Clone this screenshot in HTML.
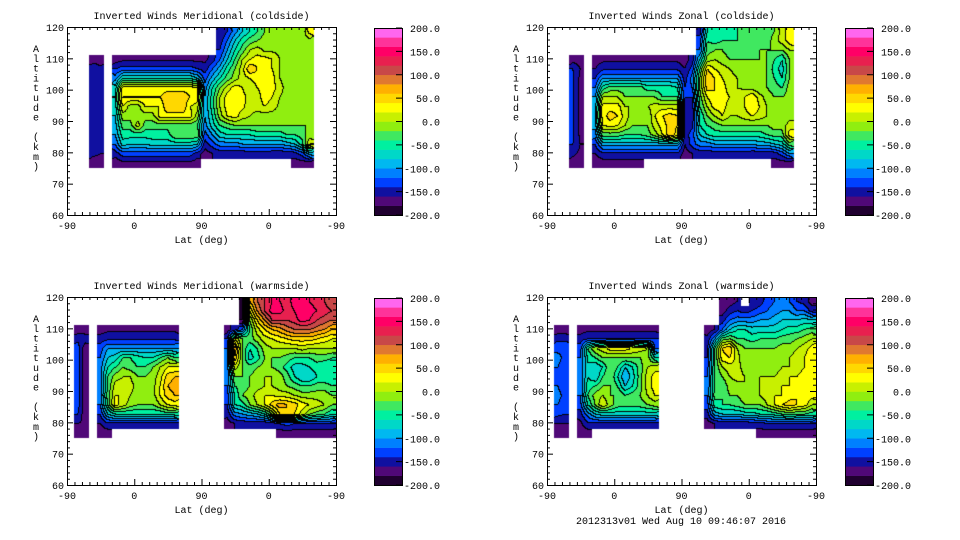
<!DOCTYPE html>
<html><head><meta charset="utf-8"><style>
html,body{margin:0;padding:0;background:#fff;}
#root{position:relative;width:960px;height:540px;overflow:hidden;background:#fff;font-family:"Liberation Mono",monospace;}
canvas{position:absolute;}
svg{position:absolute;left:0;top:0;}
</style></head><body>
<div id="root">
<svg id="svg" width="960" height="540"></svg>
</div>
<script>
const _=null;
// 20 colour bands, -200..200 in steps of 20 (bottom to top)
const bandColors=['#200030','#500878','#1010a0','#0040ff','#0080ff','#00b8f0','#00d8c8','#00f0a0','#40e860','#90ee10','#c8f000','#ffff00','#ffd800','#ffb000','#e07830','#c84848','#e8204f','#ff0066','#ff3399','#ff66ee'];
const cbTickValues=[-200,-150,-100,-50,0,50,100,150,200];
const xTickLabels=['-90','0','90','0','-90'];
const xTickCoords=[0,90,180,270,360];
const yTickValues=[60,70,80,90,100,110,120];
// rows: altitude bins of 3 km, top (117-120) to bottom (75-78); columns: 10-deg bins of the 0..360 lat track

// ---- Panel 1: Meridional coldside
const p1StripCol=3;
const p1Strip=[[_,_],[_,_],[_,_],[-170,-170],[-145,-155],[-145,-160],[-145,-160],[-145,-160],[-145,-160],[-145,-160],[-145,-160],[-145,-160],[-145,-155],[-155,-160],[-170,-170]];
const p1MainCol=6;
const p1Main=[
[_,_,_,_,_,_,_,_,_,_,_,_],[_,_,_,_,_,_,_,_,_,_,_,_],[_,_,_,_,_,_,_,_,_,_,_,_],
[-170,-165,-165,-165,-165,-165,-165,-165,-165,-165,-165,-165],
[-140,-130,-130,-130,-130,-130,-130,-130,-130,-130,-130,-140],
[-110,-60,-60,-60,-60,-60,-60,-60,-60,-60,-60,-80],
[-70,30,30,30,30,30,30,30,30,30,30,20],
[-60,40,40,40,40,40,40,55,55,55,40,30],
[-70,20,-10,-10,20,20,20,60,60,60,20,10],
[-80,-10,-10,-10,-10,-10,30,30,30,30,30,-10],
[-90,-30,-30,10,-30,-30,-30,-30,-30,-30,-30,-40],
[-100,-50,-50,-50,-50,-50,-50,-50,-20,-20,-20,-20],
[-120,-70,-80,-80,-80,-70,-70,-70,-70,-70,-70,-80],
[-150,-130,-130,-130,-130,-130,-130,-130,-130,-130,-130,-150],
[-175,-165,-165,-165,-165,-165,-165,-165,-165,-165,-165,-170]];
const p1RightCol=18;
const p1Right=[
[_,_,-160,-140,-110,-80,-60,-40,-20,-20,-20,-20,-20,-20,30],
[_,_,-150,-120,-80,-50,-30,-20,-10,-10,-10,-10,-10,-10,-10],
[_,_,-140,-100,-60,-30,0,10,-5,-5,-5,-5,-5,-5,-20],
[-165,-150,-120,-80,-40,0,20,30,30,20,0,-10,-10,-10,-10],
[-150,-120,-90,-50,-20,10,60,40,30,20,0,-10,-10,-10,-10],
[-130,-90,-60,-30,-10,10,20,30,30,30,0,-10,-10,-10,-10],
[-110,-60,-20,10,30,20,0,20,30,30,10,-10,-10,-10,-10],
[-100,-50,0,30,30,30,10,10,30,20,0,-10,-10,-10,-10],
[-100,-50,0,30,30,25,10,10,20,10,-5,-10,-10,-10,-10],
[-100,-60,-10,20,30,10,0,-10,-10,-10,-10,-10,-10,-10,-10],
[-110,-70,-40,-30,-20,-20,-20,-20,-20,-20,-20,-20,-20,-20,-20],
[-130,-100,-70,-60,-60,-60,-60,-50,-50,-50,-50,-40,-40,-30,-10],
[-150,-130,-110,-110,-110,-100,-100,-100,-100,-100,-100,-90,-80,-50,20],
[-170,-160,-155,-155,-155,-155,-150,-150,-150,-155,-155,-155,-150,-130,-90],
[_,_,_,_,_,_,_,_,_,_,_,_,-170,-170,-170]];

// ---- Panel 2: Zonal coldside
const p2StripCol=3;
const p2Strip=[[_,_],[_,_],[_,_],[-170,-170],[-140,-160],[-135,-165],[-135,-165],[-135,-165],[-135,-165],[-135,-165],[-135,-165],[-135,-165],[-140,-160],[-155,-165],[-170,-170]];
const p2MainCol=6;
const p2Main=[
[_,_,_,_,_,_,_,_,_,_,_,_],[_,_,_,_,_,_,_,_,_,_,_,_],[_,_,_,_,_,_,_,_,_,_,_,_],
[-170,-165,-165,-165,-165,-165,-165,-165,-165,-165,-165,-165],
[-160,-145,-145,-145,-145,-145,-145,-145,-145,-145,-145,-145],
[-140,-100,-100,-100,-100,-100,-100,-100,-100,-100,-100,-100],
[-120,-50,-30,-30,-30,-30,-30,-50,-50,-50,-50,-60],
[-100,0,0,0,-20,-20,-20,-20,-20,-40,-40,-40],
[-90,30,30,30,0,0,0,0,10,10,10,10],
[-80,30,50,40,10,-10,-10,-20,20,40,50,40],
[-90,20,30,20,0,-20,-20,-20,10,30,50,40],
[-110,-30,-30,-30,-40,-40,-40,-30,-10,20,60,30],
[-140,-90,-90,-90,-90,-90,-90,-90,-90,-90,-90,-90],
[-160,-145,-145,-145,-145,-145,-145,-145,-145,-145,-145,-145],
[-175,-170,-170,-170,-170,-170,-170,_,_,_,_,_]];
const p2RightCol=18;
const p2Right=[
[_,_,-150,-60,-60,-40,-50,-40,-30,-40,-30,-30,-20,10,30],
[_,_,-130,-40,-50,-40,-40,-40,-40,-40,-30,-30,-10,10,30],
[_,_,-120,-30,-20,-20,-30,-30,-30,-30,-20,-20,-20,-20,0],
[-170,-150,-80,-10,0,-10,-20,-20,-20,-20,-20,-20,-40,-60,-20],
[-160,-130,-40,40,20,10,0,-10,-20,-20,-20,-20,-50,-70,-20],
[-150,-110,-20,60,40,20,10,0,-10,-20,-20,-20,-40,-60,-20],
[-140,-120,-20,50,40,30,10,0,-5,-10,-20,-20,-30,-40,-10],
[-140,-140,-30,20,40,30,20,10,20,40,10,-10,-20,-20,-10],
[-150,-150,-40,0,30,30,10,0,20,40,20,0,-10,-20,-10],
[-155,-155,-60,-20,0,20,0,0,10,20,10,0,-10,-20,-10],
[-155,-145,-60,-40,-30,-20,-20,-20,-20,-20,-20,-20,-10,-10,10],
[-150,-130,-80,-60,-50,-50,-50,-50,-50,-50,-50,-40,-30,-30,30],
[-160,-130,-110,-110,-100,-100,-100,-100,-100,-100,-90,-90,-80,-70,-30],
[-170,-160,-155,-155,-150,-150,-150,-150,-150,-155,-155,-155,-150,-130,-100],
[_,_,_,_,_,_,_,_,_,_,_,_,-170,-170,-170]];

// ---- Panel 3: Meridional warmside
const p3StripCol=1;
const p3Strip=[[_,_],[_,_],[_,_],[-170,-170],[-145,-150],[-130,-175],[-130,-180],[-130,-180],[-130,-180],[-130,-180],[-130,-180],[-130,-180],[-140,-175],[-160,-165],[-170,-170]];
const p3MainCol=4;
const p3Main=[
[_,_,_,_,_,_,_,_,_,_,_],[_,_,_,_,_,_,_,_,_,_,_],[_,_,_,_,_,_,_,_,_,_,_],
[-170,-165,-165,-165,-165,-165,-165,-165,-165,-165,-165],
[-150,-145,-145,-145,-145,-145,-145,-145,-145,-145,-145],
[-130,-100,-100,-100,-100,-100,-100,-100,-100,-100,-100],
[-120,-80,-70,-40,-40,-50,-60,-60,-40,-20,-40],
[-110,-60,-40,-20,-30,-40,-40,-20,0,20,20],
[-110,-40,-10,0,0,-20,-20,-10,10,50,60],
[-110,-40,10,10,10,-10,-10,-10,20,60,70],
[-110,-30,20,20,0,-10,-10,-10,20,50,60],
[-120,-40,30,10,-10,-20,-20,-20,0,20,30],
[-140,-80,-60,-60,-60,-60,-60,-60,-60,-50,-50],
[-160,-145,-145,-145,-145,-145,-145,-145,-145,-145,-145],
[-170,-170,_,_,_,_,_,_,_,_,_]];
const p3RightCol=21;
const p3Right=[
[_,_,-200,60,100,120,140,140,130,150,150,140,130,120,100],
[_,_,-190,20,80,120,150,150,130,140,160,150,140,130,120],
[_,_,-180,-20,40,80,120,120,120,130,150,140,120,110,100],
[-170,-150,-120,-40,10,40,60,70,90,100,100,100,90,80,60],
[-140,20,-20,-30,-10,10,20,30,40,50,50,50,40,30,20],
[-120,80,-20,-60,-40,-10,0,0,0,0,10,0,0,0,0],
[-110,60,-20,-70,-50,-20,-20,-20,-30,-40,-40,-40,-30,-30,-40],
[-110,10,-20,-30,-20,-10,-20,-30,-50,-70,-70,-60,-50,-60,-60],
[-120,-20,-20,-20,-10,0,0,-10,-30,-60,-80,-80,-60,-60,-60],
[-120,-40,-30,-20,-10,0,0,-10,-20,-30,-40,-40,-30,-30,-40],
[-130,-60,-20,-10,10,20,20,10,10,0,-10,-10,-10,-10,-20],
[-140,-60,-50,-20,0,20,50,70,60,50,30,20,10,0,-20],
[-155,-110,-100,-90,-80,-60,-20,40,60,40,10,-20,-30,-40,-60],
[-170,-160,-155,-155,-155,-155,-150,-140,-130,-140,-140,-140,-140,-140,-140],
[_,_,_,_,_,_,_,-170,-170,-170,-170,-170,-170,-170,-170]];

// ---- Panel 4: Zonal warmside
const p4StripCol=1;
const p4Strip=[[_,_],[_,_],[_,_],[-170,-170],[-145,-145],[-125,-125],[-115,-125],[-120,-130],[-125,-135],[-120,-130],[-115,-125],[-120,-130],[-135,-140],[-160,-160],[-170,-170]];
const p4MainCol=4;
const p4Main=[
[_,_,_,_,_,_,_,_,_,_,_],[_,_,_,_,_,_,_,_,_,_,_],[_,_,_,_,_,_,_,_,_,_,_],
[-170,-165,-165,-165,-165,-165,-165,-165,-165,-165,-165],
[-150,-140,-140,-140,-140,-140,-140,-140,-140,-140,-140],
[-130,-40,0,10,30,30,30,20,10,0,-120],
[-120,-60,-40,-20,-20,-20,-20,-20,-20,-10,-60],
[-120,-60,-80,-60,-20,-40,-80,-60,-30,0,10],
[-120,-60,-80,-40,-20,-60,-100,-70,-30,10,30],
[-120,-50,-40,-20,-20,-40,-80,-60,-30,10,30],
[-120,-40,-10,0,-20,-20,-40,-30,-20,0,20],
[-130,-60,-20,20,-10,-30,-30,-30,-30,-20,-10],
[-150,-110,-80,-70,-70,-70,-70,-70,-70,-70,-70],
[-165,-145,-145,-145,-145,-145,-145,-145,-145,-145,-145],
[-170,-170,_,_,_,_,_,_,_,_,_]];
const p4RightCol=21;
const p4Right=[
[_,_,-180,-170,-160,_,-160,-150,-130,-120,-110,-120,-140,-150,-170],
[_,_,-170,-150,-140,-150,-140,-130,-120,-110,-100,-100,-120,-120,-150],
[_,_,-150,-120,-110,-110,-110,-100,-100,-90,-80,-80,-80,-70,-80],
[-170,-160,-120,-80,-60,-60,-70,-70,-70,-70,-60,-50,-50,-40,-30],
[-155,-100,-30,-20,-40,-40,-50,-40,-40,-40,-30,-30,-20,-10,0],
[-145,-40,40,60,0,-20,-20,-20,-20,-20,-10,-10,0,10,30],
[-140,-40,30,40,10,-20,-20,-20,-10,-20,-10,0,10,20,40],
[-130,-40,0,10,10,-10,-10,-10,-10,-10,0,0,10,20,30],
[-120,-40,-20,0,10,0,-10,0,0,0,10,20,20,30,30],
[-120,-40,-40,-10,-10,0,-10,0,10,10,20,20,30,30,30],
[-120,-30,-40,-20,-20,-10,-10,0,10,20,20,30,40,40,30],
[-130,-50,-40,-40,-30,-20,-20,-20,0,20,40,50,40,30,0],
[-150,-90,-80,-80,-80,-70,-70,-60,-60,-50,-40,-30,-40,-40,-50],
[-170,-160,-155,-155,-155,-155,-150,-150,-140,-140,-140,-140,-140,-140,-140],
[_,_,_,_,_,_,_,-170,-170,-170,-170,-170,-170,-170,-170]];

const panels=[
 {name:'meridional-coldside',title:'Inverted Winds Meridional (coldside)',ox:0,oy:0,cbx:374,blocks:[[p1StripCol,p1Strip],[p1MainCol,p1Main],[p1RightCol,p1Right]]},
 {name:'zonal-coldside',title:'Inverted Winds Zonal (coldside)',ox:480,oy:0,cbx:845,blocks:[[p2StripCol,p2Strip],[p2MainCol,p2Main],[p2RightCol,p2Right]]},
 {name:'meridional-warmside',title:'Inverted Winds Meridional (warmside)',ox:0,oy:270,cbx:374,blocks:[[p3StripCol,p3Strip],[p3MainCol,p3Main],[p3RightCol,p3Right]]},
 {name:'zonal-warmside',title:'Inverted Winds Zonal (warmside)',ox:480,oy:270,cbx:845,blocks:[[p4StripCol,p4Strip],[p4MainCol,p4Main],[p4RightCol,p4Right]]}
];

const NS='http://www.w3.org/2000/svg';
const svg=document.getElementById('svg');
const root=document.getElementById('root');
function mk(tag,attrs,parent,text){const e=document.createElementNS(NS,tag);for(const k in attrs)e.setAttribute(k,attrs[k]);if(text!==undefined)e.textContent=text;(parent||svg).appendChild(e);return e;}
const PW=269,PH=188,PL=67,PT=27;
const xScale=c=>c/360*PW;
const yScale=a=>(120-a)/60*PH;
function hexRgb(h){return [parseInt(h.slice(1,3),16),parseInt(h.slice(3,5),16),parseInt(h.slice(5,7),16)];}
const rgbs=bandColors.map(hexRgb);
function bandOf(v){let b=Math.floor((v+200)/20);return Math.max(0,Math.min(19,b));}

panels.forEach(p=>{
 const g=mk('g',{},svg);
 
 
 const NR=15,NC=36;
 const grid=[];for(let i=0;i<NR;i++){grid.push(new Array(NC).fill(null));}
 p.blocks.forEach(([c0,rows])=>{rows.forEach((r,i)=>{r.forEach((v,k)=>{if(v!==null)grid[i][c0+k]=v;});});});
 const cv=document.createElement('canvas');cv.width=PW;cv.height=PH;
 cv.style.left=(p.ox+PL)+'px';cv.style.top=(p.oy+PT)+'px';
 
 
 root.insertBefore(cv,svg);
 const ctx=cv.getContext('2d');const img=ctx.createImageData(PW,PH);
 const band=new Int8Array(PW*PH).fill(-1);
 const get=(i,j,d)=>{if(i<0||j<0||i>=NR||j>=NC)return d;const v=grid[i][j];return v===null?d:v;};
 for(let py=0;py<PH;py++){
  const a=120-(py+0.5)/PH*60;
  if(a<75)continue;
  const fi=(120-a)/3-0.5;const ii=Math.floor((120-a)/3);
  for(let px=0;px<PW;px++){
   const c=(px+0.5)/PW*360;
   const jj=Math.floor(c/10);
   const v0=grid[ii]?grid[ii][jj]:null;
   if(v0===null||v0===undefined)continue;
   const fj=c/10-0.5;const i0=Math.floor(fi),j0=Math.floor(fj);const ti=fi-i0,tj=fj-j0;
   const v=(1-ti)*((1-tj)*get(i0,j0,v0)+tj*get(i0,j0+1,v0))+ti*((1-tj)*get(i0+1,j0,v0)+tj*get(i0+1,j0+1,v0));
   band[py*PW+px]=bandOf(v);
  }
 }
 for(let py=0;py<PH;py++)for(let px=0;px<PW;px++){
  const k=py*PW+px;const b=band[k];if(b<0)continue;
  let col=rgbs[b];
  const r=px+1<PW?band[k+1]:-1, d=py+1<PH?band[k+PW]:-1;
  if((r>=0&&r!==b)||(d>=0&&d!==b))col=[0,0,0];
  img.data[k*4]=col[0];img.data[k*4+1]=col[1];img.data[k*4+2]=col[2];img.data[k*4+3]=255;
 }
 ctx.putImageData(img,0,0);
 const L=p.ox+PL,T=p.oy+PT;
 const fr=mk('rect',{x:L+0.5,y:T+0.5,width:PW,height:PH,fill:'none',stroke:'#000','stroke-width':1},g);
 
 const tt=mk('text',{x:L+PW/2,y:p.oy+19,'text-anchor':'middle','font-size':10,fill:'#000'},g,p.title);
 
 for(let c=0;c<=360;c+=10){const x=L+xScale(c)+0.5;const len=(c%90===0)?6:3;
  mk('line',{x1:x,x2:x,y1:T+PH,y2:T+PH-len,stroke:'#000'},g);mk('line',{x1:x,x2:x,y1:T,y2:T+len,stroke:'#000'},g);}
 xTickCoords.forEach((c,k)=>{const t=mk('text',{x:L+xScale(c),y:T+PH+14,'text-anchor':'middle','font-size':10},g,xTickLabels[k]);
  });
 const xt=mk('text',{x:L+PW/2,y:T+PH+28,'text-anchor':'middle','font-size':10},g,'Lat (deg)');
 
 for(let a=60;a<=120;a+=2){const y=T+yScale(a)+0.5;const len=(a%10===0)?6:3;
  mk('line',{x1:L,x2:L+len,y1:y,y2:y,stroke:'#000'},g);mk('line',{x1:L+PW,x2:L+PW-len,y1:y,y2:y,stroke:'#000'},g);}
 yTickValues.forEach(a=>{const t=mk('text',{x:L-3,y:T+yScale(a)+4,'text-anchor':'end','font-size':10},g,String(a));
  });
 const yt=mk('text',{x:p.ox+36,y:p.oy+52,'text-anchor':'middle','font-size':10},g);
 
 'Altitude (km)'.split('').forEach((ch,k)=>{mk('tspan',{x:p.ox+36,y:p.oy+52+k*9.8},yt,ch===' '?'\u00a0':ch);});
 const cb=mk('g',{},g);
 const CBT=p.oy+28,CBH=187,CBW=28;
 bandColors.forEach((col,k)=>{const h=CBH/20;const r=mk('rect',{x:p.cbx,y:CBT+CBH-(k+1)*h,width:CBW,height:h+0.3,fill:col},cb);
  });
 mk('rect',{x:p.cbx+0.5,y:CBT+0.5,width:CBW,height:CBH,fill:'none',stroke:'#000'},cb);
 cbTickValues.forEach(v=>{const y=CBT+CBH-(v+200)/400*CBH;
  mk('line',{x1:p.cbx+CBW-6,x2:p.cbx+CBW,y1:y,y2:y,stroke:'#000'},cb);
  const t=mk('text',{x:p.cbx+CBW+38,y:y+4,'text-anchor':'end','font-size':10},cb,v.toFixed(1));
  });
});
const ft=mk('text',{x:681,y:524,'text-anchor':'middle','font-size':10},svg,'2012313v01 Wed Aug 10 09:46:07 2016');

</script>
</body></html>
